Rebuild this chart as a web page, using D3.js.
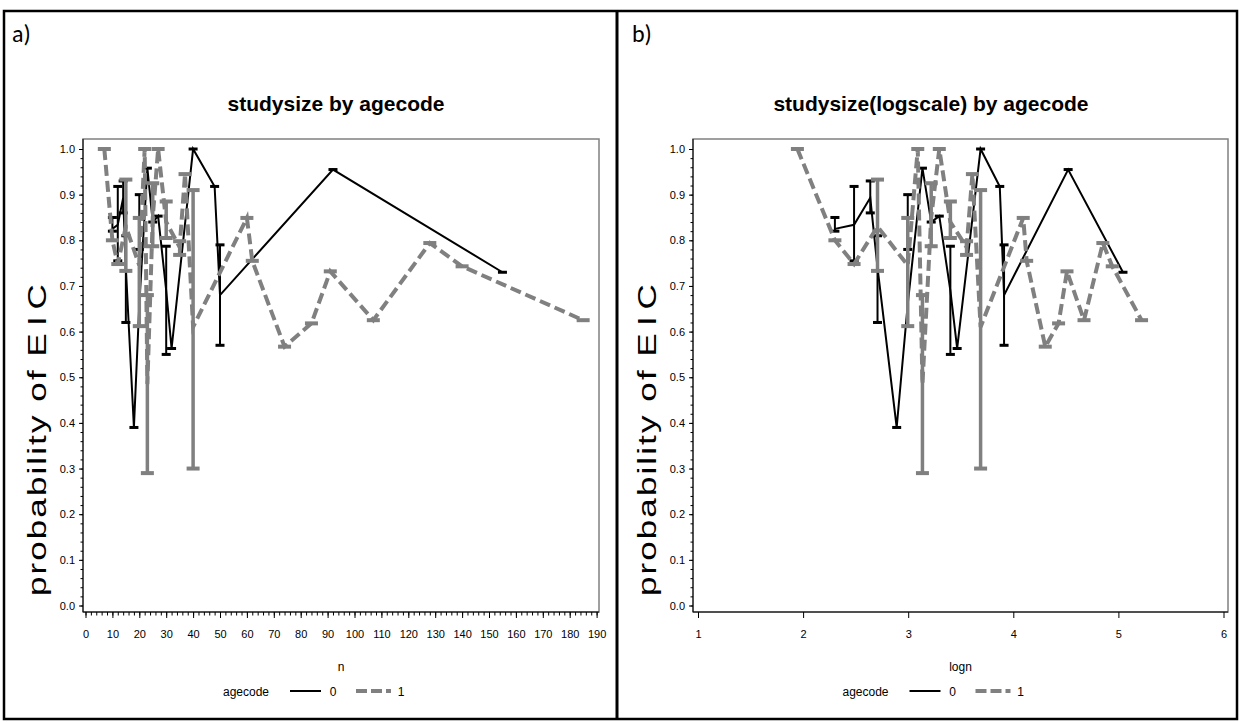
<!DOCTYPE html>
<html>
<head>
<meta charset="utf-8">
<script src="https://cdn.jsdelivr.net/npm/d3@7"></script>
<style>
  body { margin: 0; background: #fff; }
  text { font-family: "Liberation Sans Narrow", "Liberation Sans", Arial, sans-serif; }
</style>
</head>
<body>
<div id="chart"></div>
<script>
// agecode 0 (black, solid): study size, low / high / joined value
var n0   = [10, 12, 14, 15, 18, 20, 23, 25, 27, 30, 32, 40, 48, 50, 92, 155];
var lo0  = [0.82, 0.755, 0.86, 0.62, 0.39, 0.78, 0.958, 0.84, 0.853, 0.55, 0.563, 1.0, 0.918, 0.57, 0.955, 0.73];
var hi0  = [0.85, 0.918, 0.93, 0.81, 0.39, 0.90, 0.958, 0.84, 0.853, 0.787, 0.563, 1.0, 0.918, 0.79, 0.955, 0.73];
var mid0 = [0.825, 0.834, 0.893, 0.74, 0.39, 0.66, 0.958, 0.84, 0.853, 0.69, 0.563, 1.0, 0.918, 0.68, 0.955, 0.73];
// agecode 1 (gray, dashed)
var n1   = [7, 10, 12, 15, 20, 22, 23, 25, 27, 30, 35, 37, 40, 60, 62, 74, 84, 91, 107, 128, 140, 185];
var lo1  = [1.0, 0.80, 0.748, 0.733, 0.612, 1.0, 0.29, 0.787, 1.0, 0.805, 0.768, 0.945, 0.30, 0.849, 0.755, 0.567, 0.618, 0.732, 0.625, 0.794, 0.743, 0.625];
var hi1  = [1.0, 0.80, 0.748, 0.933, 0.849, 1.0, 0.68, 0.925, 1.0, 0.885, 0.798, 0.945, 0.91, 0.849, 0.755, 0.567, 0.618, 0.732, 0.625, 0.794, 0.743, 0.625];
var mid1 = [1.0, 0.80, 0.748, 0.83, 0.745, 1.0, 0.485, 0.85, 1.0, 0.84, 0.785, 0.945, 0.61, 0.849, 0.755, 0.567, 0.618, 0.732, 0.625, 0.794, 0.743, 0.625];

var yTicks = [0, 0.1, 0.2, 0.3, 0.4, 0.5, 0.6, 0.7, 0.8, 0.9, 1.0];
var nTicks = [0, 10, 20, 30, 40, 50, 60, 70, 80, 90, 100, 110, 120, 130, 140, 150, 160, 170, 180, 190];
var lognTicks = [1, 2, 3, 4, 5, 6];
var legendKeys = ["0", "1"];

var width = 1239, height = 722;
var svg = d3.select('#chart').append('svg')
      .attr('width', width)
      .attr('height', height);

//build rows for the two series
function rows(ns, lo, hi, mid) {
      return ns.map(function (d, i) { return { n: d, lo: lo[i], hi: hi[i], mid: mid[i] }; });
}
var series = [
      { key: "0", data: rows(n0, lo0, hi0, mid0), color: "#000", lw: 2, bw: 2, cap: 9, capH: 3, dash: null },
      { key: "1", data: rows(n1, lo1, hi1, mid1), color: "#808080", lw: 4, bw: 3.5, cap: 13, capH: 4, dash: "11,5" }
];

var y = d3.scaleLinear().domain([0, 1]).range([605.5, 149]);

var panels = [
      { label: "a)", lx: 12, title: "studysize by agecode", cx: 336, xlab: "n",
        left: 83, right: 599, ylabX: 46,
        x: d3.scaleLinear().domain([0, 190]).range([85.5, 596.6]),
        xval: function (d) { return d; }, ticks: nTicks, minor: d3.range(0, 191, 2), fmt: d3.format("d") },
      { label: "b)", lx: 632, title: "studysize(logscale) by agecode", cx: 931, xlab: "logn",
        left: 693, right: 1228, ylabX: 656,
        x: d3.scaleLinear().domain([1, 6]).range([698, 1223.5]),
        xval: function (d) { return Math.log(d); }, ticks: lognTicks, minor: [], fmt: d3.format("d") }
];
var plotTop = 139, plotBottom = 612;

//outer table borders
svg.append('rect').attr('x', 4).attr('y', 11).attr('width', 1233).attr('height', 708)
      .attr('fill', 'none').attr('stroke', '#000').attr('stroke-width', 2.5);
svg.append('line').attr('x1', 617).attr('x2', 617).attr('y1', 11).attr('y2', 719)
      .attr('stroke', '#000').attr('stroke-width', 3);

panels.forEach(function (p) {
      var g = svg.append('g');
      g.append('text').attr('x', p.lx).attr('y', 42).text(p.label)
            .style('font-family', 'Carlito, "Open Sans", "Noto Sans", sans-serif').style('font-size', '24px');
      g.append('text').attr('x', p.cx).attr('y', 111).attr('text-anchor', 'middle').text(p.title)
            .style('font-family', '"Liberation Sans", Arial, sans-serif')
            .style('font-weight', 'bold').style('font-size', '21px');

      //plot frame
      g.append('rect').attr('x', p.left).attr('y', plotTop)
            .attr('width', p.right - p.left).attr('height', plotBottom - plotTop)
            .attr('fill', 'none').attr('stroke', '#808080').attr('stroke-width', 1.5);

      //y axis
      var ya = g.append('g').attr('transform', 'translate(' + p.left + ',0)')
            .call(d3.axisLeft(y).tickValues(yTicks).tickSize(4).tickPadding(4).tickFormat(d3.format(".1f")));
      ya.append('g').call(d3.axisLeft(y).tickValues(d3.range(0, 1.001, 0.02)).tickSize(2.5).tickFormat(""))
            .select('.domain').remove();
      ya.select('.domain').attr('d', 'M0,' + plotTop + 'V' + plotBottom).attr('stroke', '#000');

      //x axis
      var xa = g.append('g').attr('transform', 'translate(0,' + plotBottom + ')')
            .call(d3.axisBottom(p.x).tickValues(p.ticks).tickSize(6).tickPadding(12).tickFormat(p.fmt));
      if (p.minor.length)
            xa.append('g').call(d3.axisBottom(p.x).tickValues(p.minor).tickSize(3.5).tickFormat(""))
                  .select('.domain').remove();
      xa.select('.domain').attr('d', 'M' + p.left + ',0H' + p.right).attr('stroke', '#000');
      g.selectAll('.tick text').style('font-size', '11px').attr('fill', '#000');
      g.selectAll('.tick line').attr('stroke', '#000');

      //axis labels
      g.append('text').attr('x', (p.left + p.right) / 2).attr('y', 671).attr('text-anchor', 'middle')
            .style('font-size', '12px').text(p.xlab);
      var yl = g.append('text')
            .attr('transform', 'translate(' + p.ylabX + ',' + y(0.37) + ') rotate(-90) scale(1.4,1)')
            .attr('text-anchor', 'middle')
            .style('font-family', '"Liberation Sans", Arial, sans-serif')
            .style('font-size', '25px').style('letter-spacing', '1.5px');
      yl.append('tspan').text('probability of ');
      yl.append('tspan').style('letter-spacing', '5px').text('EIC');

      //series
      series.forEach(function (s) {
            var sg = g.append('g');
            var line = d3.line()
                  .x(function (d) { return p.x(p.xval(d.n)); })
                  .y(function (d) { return y(d.mid); });
            sg.append('path').datum(s.data).attr('d', line)
                  .attr('fill', 'none').attr('stroke', s.color).attr('stroke-width', s.lw)
                  .attr('stroke-dasharray', s.dash);
            var grp = sg.selectAll('g.grp').data(s.data).enter().append('g').attr('class', 'grp');
            grp.filter(function (d) { return d.hi > d.lo; }).append('line')
                  .attr('x1', function (d) { return p.x(p.xval(d.n)); })
                  .attr('x2', function (d) { return p.x(p.xval(d.n)); })
                  .attr('y1', function (d) { return y(d.lo); })
                  .attr('y2', function (d) { return y(d.hi); })
                  .attr('stroke', s.color).attr('stroke-width', s.bw);
            grp.selectAll('rect').data(function (d) { return d.hi > d.lo ? [[d.n, d.lo], [d.n, d.hi]] : [[d.n, d.hi]]; })
                  .enter().append('rect')
                  .attr('x', function (d) { return p.x(p.xval(d[0])) - s.cap / 2; })
                  .attr('y', function (d) { return y(d[1]) - s.capH / 2; })
                  .attr('width', s.cap).attr('height', s.capH)
                  .attr('fill', s.color);
      });

      //legend
      var lg = g.append('g').attr('transform', 'translate(' + ((p.left + p.right) / 2 - 25) + ',0)');
      lg.append('text').attr('x', -70).attr('y', 696).attr('text-anchor', 'middle')
            .style('font-size', '12px').text('agecode');
      lg.append('line').attr('x1', -26).attr('x2', 5).attr('y1', 691).attr('y2', 691)
            .attr('stroke', '#000').attr('stroke-width', 2);
      lg.append('text').attr('x', 17).attr('y', 696).attr('text-anchor', 'middle')
            .style('font-size', '12px').text(legendKeys[0]);
      lg.append('line').attr('x1', 40).attr('x2', 75).attr('y1', 691).attr('y2', 691)
            .attr('stroke', '#808080').attr('stroke-width', 4).attr('stroke-dasharray', '11,4');
      lg.append('text').attr('x', 85).attr('y', 696).attr('text-anchor', 'middle')
            .style('font-size', '12px').text(legendKeys[1]);
});
</script>
</body>
</html>
